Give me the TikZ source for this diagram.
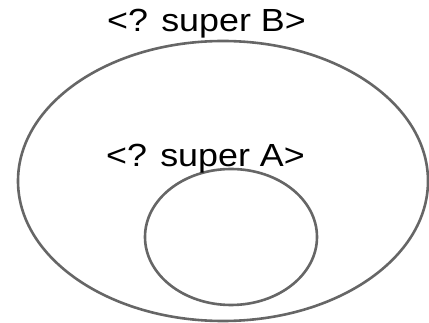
\documentclass[tikz,border=0pt]{standalone}
\usepackage{fontspec}
\setmainfont{Liberation Sans}
\usetikzlibrary{shapes.geometric}
\definecolor{ring}{HTML}{666666}
\tikzset{
  setring/.style={ellipse, draw=ring, line width=2.6pt, inner sep=0pt, outer sep=0pt},
  lbl/.style={anchor=base, inner sep=0pt, font=\fontsize{32}{38}\selectfont, xscale=1.12, transform shape}
}
\begin{document}
\begin{tikzpicture}[x=1pt,y=-1pt]
\useasboundingbox (0,0) rectangle (429,323);
\node[setring, minimum width=410pt, minimum height=280pt] (B) at (223,181) {};
\node[setring, minimum width=172pt, minimum height=136pt] (A) at (231,237) {};
\node[lbl] (lb) at (206.5,32) {<? super B>};
\node[lbl] (la) at (205.5,167) {<? super A>};
\end{tikzpicture}
\end{document}
